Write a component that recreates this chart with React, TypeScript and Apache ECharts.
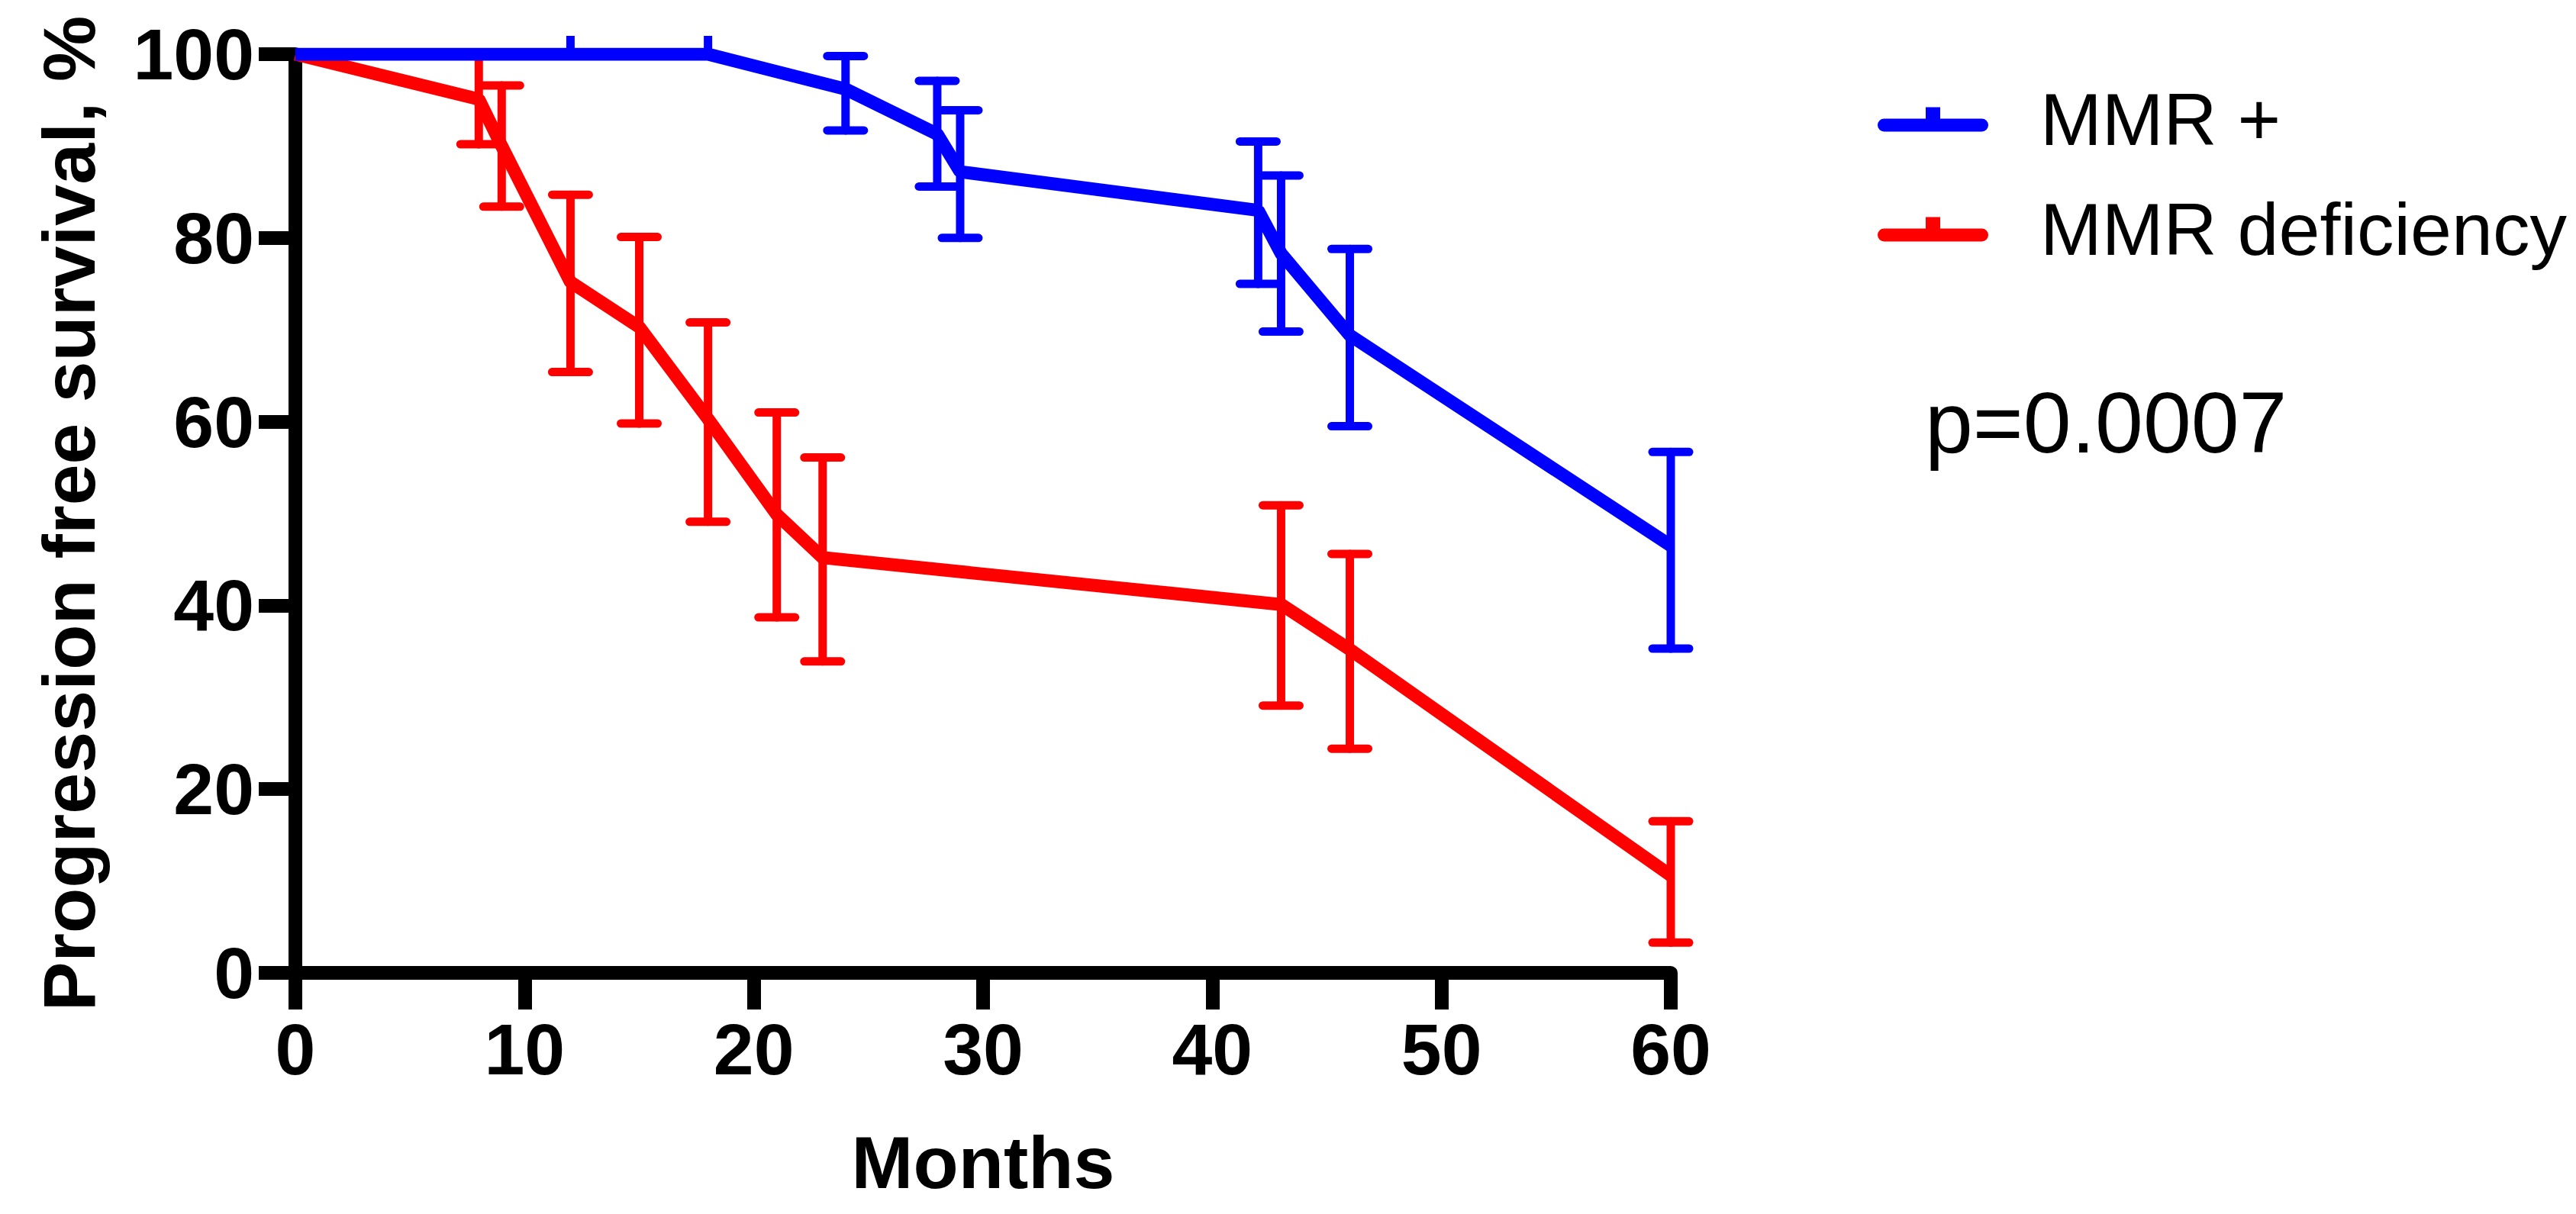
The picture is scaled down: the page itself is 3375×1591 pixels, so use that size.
import React, { useEffect, useRef } from 'react';
import * as echarts from 'echarts';

// months on x, progression free survival (%) on y
const blueMonths = [0, 12, 18, 24, 28, 29, 42, 43, 46, 60];
const blueValues = [100, 100, 100, 96.2, 91.3, 87.2, 83.0, 78.3, 69.4, 46.5];
const blueLow = [null, null, null, 91.7, 85.6, 80.0, 75.0, 69.8, 59.5, 35.3];
const blueHigh = [null, null, null, 99.8, 97.1, 93.9, 90.5, 86.8, 78.8, 56.7];
const blueTickMonths = [12, 18];

const redMonths = [0, 8, 9, 12, 15, 18, 21, 23, 43, 46, 60];
const redValues = [100, 95.1, 90.0, 75.2, 70.3, 60.3, 49.9, 45.2, 40.1, 35.2, 10.6];
const redLow = [null, 90.2, 83.4, 65.4, 59.8, 49.1, 38.7, 33.9, 29.1, 24.4, 3.3];
const redHigh = [null, 99.9, 96.6, 84.7, 80.1, 70.8, 61.0, 56.1, 50.9, 45.6, 16.5];

const seriesNames = ['MMR +', 'MMR deficiency'];
const pValueText = 'p=0.0007';

const BLUE = '#0000ff';
const RED = '#ff0000';
const FONT = '"Liberation Sans", Arial, sans-serif';

function errorData(months: number[], low: (number | null)[], high: (number | null)[]) {
  const out: number[][] = [];
  months.forEach((m, i) => {
    if (low[i] != null && high[i] != null) out.push([m, low[i] as number, high[i] as number]);
  });
  return out;
}

function errorSeries(data: number[][], color: string, z: number) {
  return {
    type: 'custom',
    z,
    data,
    encode: { x: 0, y: [1, 2] },
    renderItem: (params: any, api: any) => {
      const lo = api.coord([api.value(0), api.value(1)]);
      const hi = api.coord([api.value(0), api.value(2)]);
      const half = 24;
      const style = { stroke: color, lineWidth: 11, fill: 'none', lineCap: 'round' };
      return {
        type: 'group',
        children: [
          { type: 'line', shape: { x1: lo[0], y1: lo[1], x2: hi[0], y2: hi[1] }, style },
          { type: 'line', shape: { x1: hi[0] - half, y1: hi[1], x2: hi[0] + half, y2: hi[1] }, style },
          { type: 'line', shape: { x1: lo[0] - half, y1: lo[1], x2: lo[0] + half, y2: lo[1] }, style },
        ],
      };
    },
  };
}

// bar with rounded ends and a small upward tick, as in the legend
const legendIcon =
  'path://M8.5,15 L136.5,15 A8.5,8.5 0 0 1 136.5,32 L8.5,32 A8.5,8.5 0 0 1 8.5,15 Z M63,0 L82,0 L82,16 L63,16 Z';

export default function App() {
  const ref = useRef<HTMLDivElement>(null);
  useEffect(() => {
    if (!ref.current) return;
    document.body.style.margin = '0';
    const chart = echarts.init(ref.current, undefined, { renderer: 'svg' });
    chart.setOption({
      animation: false,
      backgroundColor: '#ffffff',
      grid: { left: 387, right: 1186, top: 71, bottom: 316, containLabel: false, outerBoundsMode: 'none' },
      legend: {
        orient: 'vertical',
        left: 2455,
        top: 103,
        itemWidth: 145,
        itemHeight: 32,
        itemGap: 47,
        icon: legendIcon,
        data: seriesNames,
        itemStyle: { borderWidth: 0 },
        textStyle: { fontFamily: FONT, fontSize: 97, color: '#000', lineHeight: 97, padding: [0, 0, 0, 63] },
      },
      xAxis: {
        type: 'value',
        min: 0,
        max: 60,
        interval: 10,
        name: 'Months',
        nameLocation: 'middle',
        nameGap: 200,
        nameTextStyle: { fontFamily: FONT, fontSize: 97, fontWeight: 'bold', color: '#000' },
        axisLine: { onZero: false, lineStyle: { color: '#000', width: 18 } },
        axisTick: { show: true, length: 48, lineStyle: { color: '#000', width: 18 } },
        axisLabel: { margin: 52, fontFamily: FONT, fontSize: 95, fontWeight: 'bold', color: '#000' },
        splitLine: { show: false },
      },
      yAxis: {
        type: 'value',
        min: 0,
        max: 100,
        interval: 20,
        name: 'Progression free survival, %',
        nameLocation: 'middle',
        nameRotate: 90,
        nameGap: 248,
        nameTextStyle: { fontFamily: FONT, fontSize: 97, fontWeight: 'bold', color: '#000' },
        axisLine: { show: true, onZero: false, lineStyle: { color: '#000', width: 18 } },
        axisTick: { show: true, length: 48, lineStyle: { color: '#000', width: 18 } },
        axisLabel: { margin: 54, fontFamily: FONT, fontSize: 95, fontWeight: 'bold', color: '#000' },
        splitLine: { show: false },
      },
      series: [
        {
          name: 'MMR deficiency',
          type: 'line',
          z: 2,
          symbol: 'none',
          color: RED,
          itemStyle: { color: RED },
          lineStyle: { color: RED, width: 17 },
          data: redMonths.map((m, i) => [m, redValues[i]]),
        },
        errorSeries(errorData(redMonths, redLow, redHigh), RED, 2),
        {
          name: 'MMR +',
          type: 'line',
          z: 3,
          symbol: 'none',
          color: BLUE,
          itemStyle: { color: BLUE },
          lineStyle: { color: BLUE, width: 17 },
          data: blueMonths.map((m, i) => [m, blueValues[i]]),
        },
        errorSeries(errorData(blueMonths, blueLow, blueHigh), BLUE, 3),
        {
          type: 'custom',
          z: 3,
          data: blueTickMonths.map((m) => [m, 100]),
          renderItem: (params: any, api: any) => {
            const p = api.coord([api.value(0), api.value(1)]);
            return {
              type: 'line',
              shape: { x1: p[0], y1: p[1], x2: p[0], y2: p[1] - 24 },
              style: { stroke: BLUE, lineWidth: 11 },
            };
          },
        },
      ],
      graphic: [
        {
          type: 'text',
          left: 2522,
          top: 497,
          style: { text: pValueText, font: `113px ${FONT}`, fill: '#000' },
        },
      ],
    });
    return () => {
      chart.dispose();
    };
  }, []);
  return <div ref={ref} style={{ width: 3375, height: 1591 }} />;
}
